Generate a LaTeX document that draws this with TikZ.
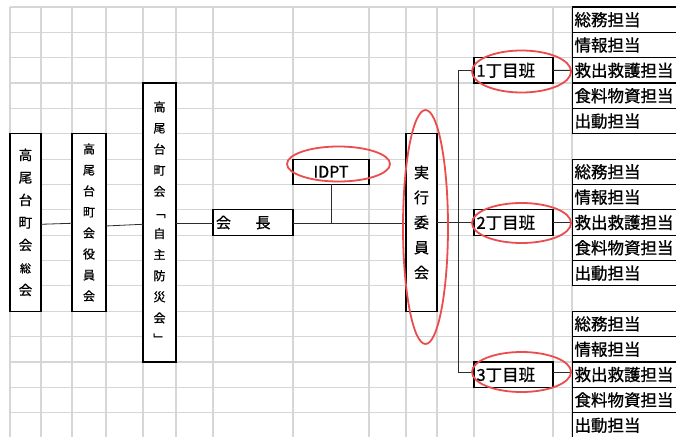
\documentclass[tikz,border=0pt]{standalone}
\usepackage{fontspec}
\newfontfamily\jp[RawFeature={embolden=0.9}]{Noto Sans CJK JP}
\definecolor{gridc}{RGB}{214,214,214}
\definecolor{ovalc}{RGB}{236,76,78}
\definecolor{connc}{RGB}{45,45,45}
\tikzset{
  gridline/.style={draw=gridc, line width=1.2pt},
  box/.style={draw=black, fill=white, line width=1.2pt, inner sep=0pt, outer sep=0pt},
  vtext/.style={box, align=center, font=\jp\fontsize{13}{21}\selectfont},
  htext/.style={box, align=left, font=\jp\fontsize{16.5}{18}\selectfont, inner xsep=2.5pt},
  cell/.style={box, align=left, font=\jp\fontsize{16.5}{18}\selectfont, inner xsep=2pt,
    text width=126pt, minimum width=130pt, minimum height=25.35pt},
  conn/.style={draw=connc, line width=0.8pt},
  oval/.style={draw=ovalc, line width=1.8pt}
}
\begin{document}
\begin{tikzpicture}[x=1pt,y=-1pt]
\clip (0,0) rectangle (676,436);
\fill[white] (0,0) rectangle (676,436);
% grid
\foreach \gx in {10,41,72,106,143,176,213,293,369,406,437,474,553,572}
  \draw[gridline] (\gx,7) -- (\gx,440);
\foreach \k in {0,...,17}
  \draw[gridline] (10,{7+25.35*\k}) -- (676,{7+25.35*\k});

% left vertical boxes
\node[vtext, minimum width=31pt, minimum height=177.45pt, font=\jp\fontsize{13.5}{22.5}\selectfont] (soukai) at (25.5,222.475)
  {高\\尾\\台\\町\\会\\{\fontsize{11}{22.5}\selectfont 総}\\会};
\node[vtext, minimum width=34pt, minimum height=177.45pt, font=\jp\fontsize{12}{21}\selectfont] (yakuin) at (89,222.475)
  {高\\尾\\台\\町\\会\\役\\員\\会};
\node[vtext, minimum width=33pt, minimum height=278.85pt, font=\jp\fontsize{12}{21.1}\selectfont] (jishu) at (159.5,222.475)
  {高\\尾\\台\\町\\会\\﹁\\自\\主\\防\\災\\会\\﹂};
\node[box, minimum width=80pt, minimum height=25.35pt, text width=74pt, align=left, inner xsep=3pt,
  font=\jp\fontsize{15}{18}\selectfont] (kaicho) at (253,222.475) {会\hspace{24.5pt}長};
\node[box, minimum width=76pt, minimum height=25.35pt, font=\jp\fontsize{16}{18}\selectfont] (idpt) at (331,171.775) {IDPT};
\node[vtext, minimum width=31pt, minimum height=177.45pt, font=\jp\fontsize{15}{25}\selectfont] (jikko) at (421.5,222.475)
  {実\\行\\委\\員\\会};

% han boxes
\node[htext, minimum width=79pt, minimum height=25.35pt, text width=74pt] (han1) at (513.5,70.375) {1丁目班};
\node[htext, minimum width=79pt, minimum height=25.35pt, text width=74pt] (han2) at (513.5,222.475) {2丁目班};
\node[htext, minimum width=79pt, minimum height=25.35pt, text width=74pt] (han3) at (513.5,374.575) {3丁目班};

% right cells
\foreach \g/\r in {1/0,2/6,3/12}{
  \foreach \t [count=\i from 0] in {総務担当,情報担当,救出救護担当,食料物資担当,出動担当}
    \node[cell] (s\g\i) at (637.5,{7+25.35*(\r+\i+0.5)}) {\t};
}

% connectors
\coordinate (trunk) at (458,0);
\draw[conn] ([yshift=-1.8pt]soukai.east) -- ([yshift=-0.8pt]yakuin.west);
\draw[conn] ([yshift=-3.5pt]yakuin.east) -- ([yshift=-1.8pt]jishu.west);
\draw[conn] ([yshift=-0.8pt]jishu.east) -- ([yshift=-0.8pt]kaicho.west);
\draw[conn] ([yshift=-0.5pt]kaicho.east) -- ([yshift=-0.5pt]jikko.west);
\draw[conn] (idpt.south) -- ([yshift=-0.5pt]idpt.south |- kaicho.east);
\draw[conn] (jikko.east) -- (han2.west);
\draw[conn] (han1.west) -- (han1.west -| trunk) -- ([yshift=2.5pt]han3.west -| trunk) -- ([yshift=2.5pt]han3.west);
\draw[conn] (han1.east) -- (s12.west);
\draw[conn] (han2.east) -- (s22.west);
\draw[conn] ([yshift=2pt]han3.east) -- ([yshift=2pt]s32.west);

% red ovals
\draw[oval] (338.5,164) ellipse [x radius=51.5pt, y radius=17.5pt];
\draw[oval] (425.5,227) ellipse [x radius=22.5pt, y radius=117pt];
\draw[oval] (521.5,71.5) ellipse [x radius=49.5pt, y radius=21pt];
\draw[oval] (521.5,223) ellipse [x radius=49.5pt, y radius=20pt];
\draw[oval] (521.5,372) ellipse [x radius=49.5pt, y radius=20pt];
\end{tikzpicture}
\end{document}
